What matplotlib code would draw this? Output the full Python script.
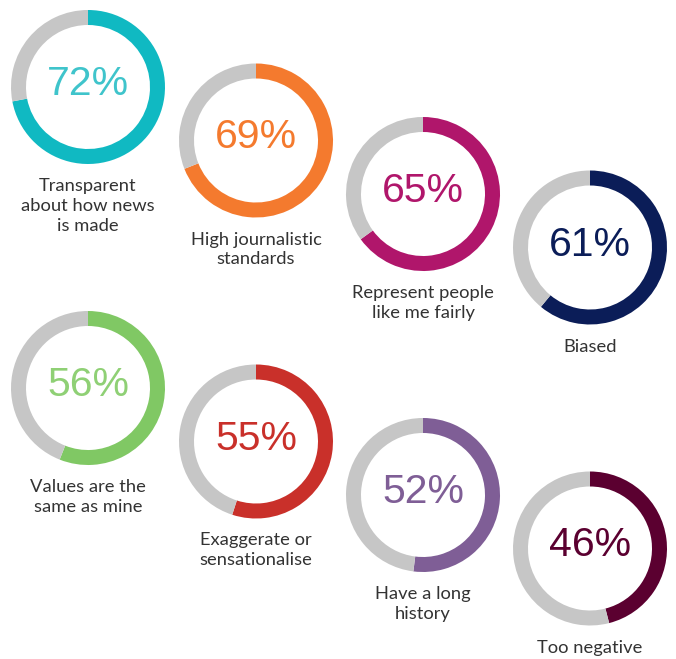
import matplotlib.pyplot as plt

# share of respondents agreeing with each statement
labels = [
    "Transparent\nabout how news\nis made",
    "High journalistic\nstandards",
    "Represent people\nlike me fairly",
    "Biased",
    "Values are the\nsame as mine",
    "Exaggerate or\nsensationalise",
    "Have a long\nhistory",
    "Too negative",
]
values = [72, 69, 65, 61, 56, 55, 52, 46]
colors = ["#10b9c2", "#f47a2e", "#b0166b", "#0b1d58",
          "#80c864", "#c9302a", "#7f5e96", "#5b0030"]
text_colors = ["#3fc4cb", "#f47a2e", "#b0166b", "#0b1d58",
               "#8fd075", "#c9302a", "#7f5e96", "#5b0030"]
grey = "#c6c6c6"

W, H = 676, 659
fig = plt.figure(figsize=(W / 100, H / 100), dpi=100)
ax = fig.add_axes([0, 0, 1, 1])

# staggered layout: 4 per row, each one stepping down
col_x = [88, 256, 423, 590]
row_y = [87, 388]
step = 53.5
r_out, ring = 77, 15

for i, (lab, v) in enumerate(zip(labels, values)):
    col = i % 4
    cx = col_x[col]
    cy = H - (row_y[i // 4] + col * step)
    ax.pie([v, 100 - v], colors=[colors[i], grey], startangle=90,
           counterclock=False, center=(cx, cy), radius=r_out,
           wedgeprops=dict(width=ring, linewidth=0))
    ax.text(cx, cy + 3, f"{v}%", ha="center", va="center",
            fontsize=29.5, color=text_colors[i], family="Liberation Sans")
    ax.text(cx, cy - r_out - 14, lab, ha="center", va="top",
            fontsize=13.2, color="#333333", family="Lato", linespacing=1.3)

ax.set_xlim(0, W)
ax.set_ylim(0, H)
ax.set_aspect("equal")
ax.axis("off")

fig.savefig("out.png", dpi=100)
